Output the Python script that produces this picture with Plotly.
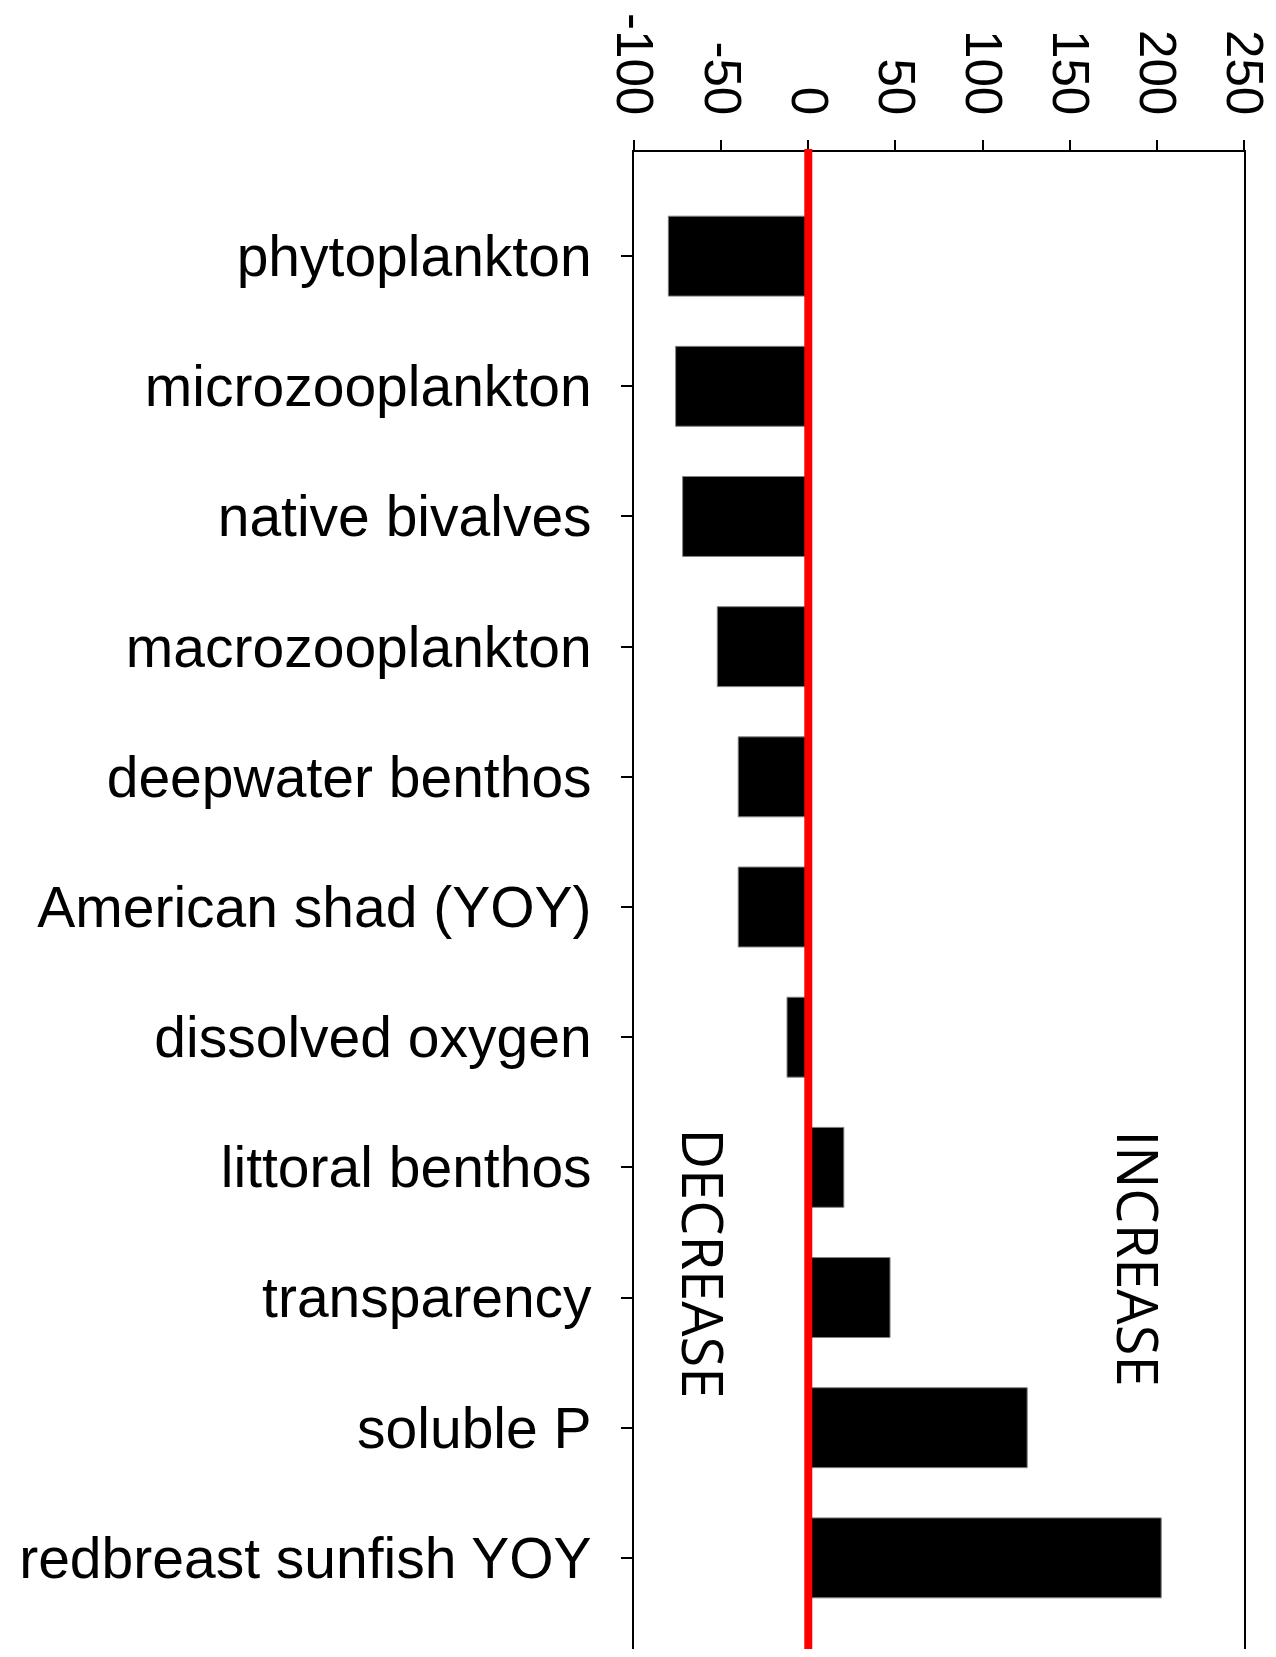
import plotly.graph_objects as go

categories = [
    "phytoplankton", "microzooplankton", "native bivalves", "macrozooplankton",
    "deepwater benthos", "American shad (YOY)", "dissolved oxygen",
    "littoral benthos", "transparency", "soluble P", "redbreast sunfish YOY",
]
values = [-80.3, -76.1, -72.1, -52.2, -40.2, -40.2, -12.2, 20.4, 46.9, 125.6, 202.5]

tick_vals = [-100, -50, 0, 50, 100, 150, 200, 250]
tick_text = ["-100", "-50", "0", "50", "100", "150", "200", "250"]

# the page body adds an 8px margin; the figure is sized to fit the window
W, H = 1268, 1641
fig = go.Figure()
fig.add_trace(go.Bar(
    y=categories, x=values, orientation="h",
    marker=dict(color="black", line=dict(color="#808080", width=1)),
    width=0.614, showlegend=False,
))

# zero reference line
fig.add_shape(type="line", xref="x", yref="paper", x0=0, x1=0, y0=0.0, y1=1.002,
              line=dict(color="#ff0000", width=8), layer="above")

fig.add_annotation(x=-59.7, y=7.74, xref="x", yref="y", text="DECREASE", showarrow=False,
                   textangle=90, font=dict(family="Open Sans", size=56, color="black"))
fig.add_annotation(x=189.7, y=7.70, xref="x", yref="y", text="INCREASE", showarrow=False,
                   textangle=90, font=dict(family="Open Sans", size=56, color="black"))

fig.update_layout(
    width=W, height=H,
    margin=dict(l=626, r=32, t=144, b=0, pad=0, autoexpand=False),
    paper_bgcolor="white", plot_bgcolor="white",
    xaxis=dict(
        side="top", range=[-100, 250], tickvals=tick_vals, ticktext=tick_text,
        tickangle=90, ticks="outside", ticklen=10, tickwidth=2, tickcolor="black",
        showline=True, linecolor="black", linewidth=2, showgrid=False, zeroline=False,
        tickfont=dict(family="Liberation Sans, Arial", size=51, color="black"),
        ticklabelstandoff=7, automargin=False,
    ),
    yaxis=dict(
        type="category", categoryorder="array", categoryarray=categories,
        range=[10.70, -0.80], ticks="outside", ticklen=11, tickwidth=2, tickcolor="black",
        showline=True, linecolor="black", linewidth=2, mirror=True, showgrid=False,
        zeroline=False, tickfont=dict(family="Liberation Sans, Arial", size=57, color="black"),
        ticklabelstandoff=18, automargin=False,
    ),
)

fig.write_html("out.html")
